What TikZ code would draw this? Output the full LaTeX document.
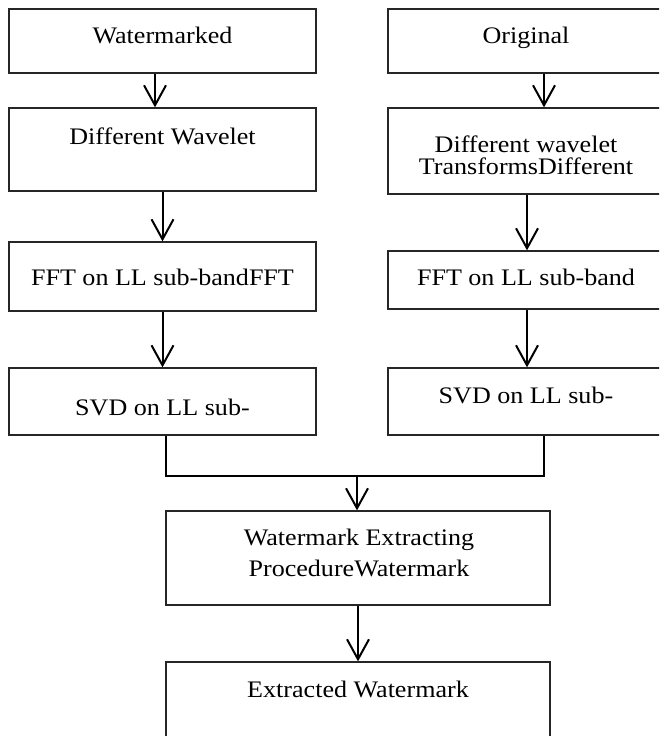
\documentclass[tikz,border=0pt]{standalone}
\usepackage{fontspec}
\setmainfont{Liberation Serif}[FakeStretch=1.1]
\usetikzlibrary{arrows.meta,calc}
\begin{document}
\begin{tikzpicture}[x=1pt,y=-1pt,
  box/.style={draw=black!85, line width=1.3pt, rectangle, inner sep=0pt},
  lbl/.style={anchor=base, inner sep=0pt, font=\fontsize{23.7}{26}\selectfont},
  arr/.style={line width=2pt, -{Straight Barb[length=20pt,width=22pt,line width=2pt]}},
  conn/.style={line width=2pt}]
\useasboundingbox (0,0) rectangle (659,736);
\begin{scope}
\clip (0,0) rectangle (659,736);
% left column
\node[box, minimum width=307pt, minimum height=64pt] (wm) at (162.5,41) {};
\node[box, minimum width=307pt, minimum height=83pt] (dwl) at (162.5,149.5) {};
\node[box, minimum width=307pt, minimum height=69pt] (fftl) at (162.5,276.5) {};
\node[box, minimum width=307pt, minimum height=67pt] (svdl) at (162.5,401.5) {};
% right column
\node[box, minimum width=276pt, minimum height=64pt] (orig) at (526,41) {};
\node[box, minimum width=276pt, minimum height=86pt] (dwr) at (526,151) {};
\node[box, minimum width=276pt, minimum height=58pt] (fftr) at (526,280) {};
\node[box, minimum width=276pt, minimum height=67pt] (svdr) at (526,401.5) {};
% bottom
\node[box, minimum width=384pt, minimum height=94pt] (wep) at (358,558) {};
\node[box, minimum width=384pt, minimum height=98pt] (ext) at (358,711) {};

% labels
\node[lbl] (t1) at (162.5,43) {Watermarked};
\node[lbl] (t2) at (162.5,144) {Different Wavelet};
\node[lbl] (t3) at (162.5,285) {FFT on LL sub-bandFFT};
\node[lbl] (t4) at (162.5,415) {SVD on LL sub-};
\node[lbl] (t5) at (526,43) {Original};
\node[lbl] (t6a) at (526,152) {Different wavelet};
\node[lbl] (t6b) at (526,174) {TransformsDifferent};
\node[lbl] (t7) at (526,285) {FFT on LL sub-band};
\node[lbl] (t8) at (526,403) {SVD on LL sub-};
\node[lbl] (t9a) at (359,545) {Watermark Extracting};
\node[lbl] (t9b) at (359,576) {ProcedureWatermark};
\node[lbl] (t10) at (358,697) {Extracted Watermark};

% arrows
\draw[arr] ($(wm.south)+(-7.5,0)$) -- ($(dwl.north)+(-7.5,0)$);
\draw[arr] (dwl.south) -- (fftl.north);
\draw[arr] (fftl.south) -- (svdl.north);
\draw[arr] ($(orig.south)+(18,0)$) -- ($(dwr.north)+(18,0)$);
\draw[arr] ($(dwr.south)+(1,0)$) -- ($(fftr.north)+(1,0)$);
\draw[arr] ($(fftr.south)+(1,0)$) -- ($(svdr.north)+(1,0)$);
\coordinate (m) at (357,476);
\draw[conn] ($(svdl.south)+(3.5,0)$) |- (m) -| ($(svdr.south)+(18,0)$);
\draw[arr] (m) -- (m |- wep.north);
\draw[arr] (wep.south) -- (ext.north);
\end{scope}
\end{tikzpicture}
\end{document}
